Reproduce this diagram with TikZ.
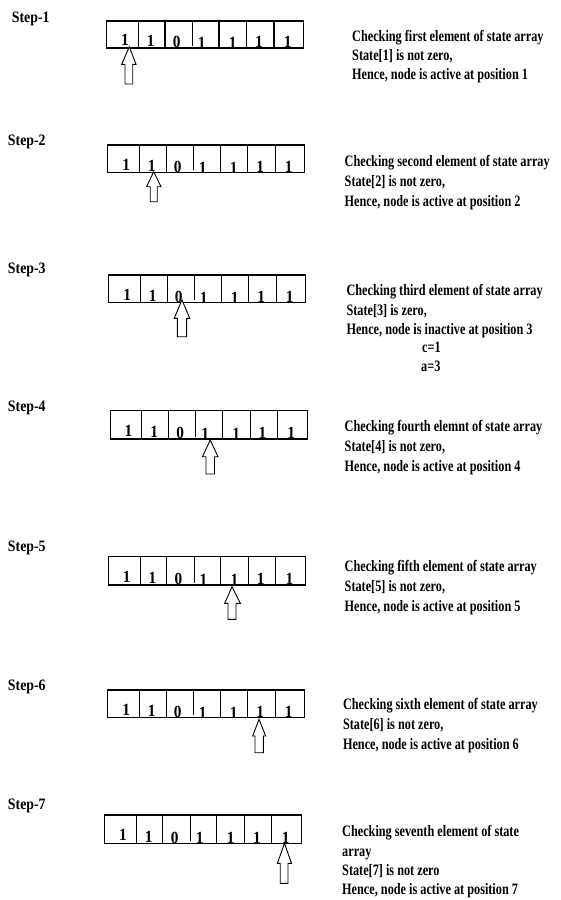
\documentclass[tikz,border=0pt]{standalone}
\usepackage{fontspec}
\setmainfont{Liberation Serif}
\newfontfamily\txtfont{Liberation Serif}[FakeStretch=0.77]
\newfontfamily\lblfont{Liberation Serif}[FakeStretch=0.87]
\newfontfamily\digfont{Liberation Serif}[FakeStretch=0.9]
\tikzset{
  txt/.style={anchor=base west, inner sep=0pt, font=\txtfont\bfseries\fontsize{15.9}{19}\selectfont},
  lbl/.style={anchor=base west, inner sep=0pt, font=\lblfont\bfseries\fontsize{15.9}{19}\selectfont},
  dig/.style={anchor=base, inner sep=0pt, font=\digfont\bfseries\fontsize{17}{19}\selectfont},
  cellbox/.style={draw, line width=1.1pt},
  hollow/.style={draw, line width=0.9pt, fill=white},
}
% #1 name, #2 left x, #3 top y, #4 bottom y
\newcommand\statearray[4]{%
  \draw[cellbox] (#2,#3) rectangle (#2+197,#4);
  \draw[cellbox] (#2+31.6,#3) -- (#2+31.6,#4);
  \draw[cellbox] (#2+58.3,#3) -- (#2+58.3,#4);
  \draw[cellbox] (#2+85.6,#3) -- (#2+85.6,#4-2.5);
  \draw[cellbox] (#2+112.3,#3) -- (#2+112.3,#4);
  \draw[cellbox] (#2+140,#3) -- (#2+140,#4);
  \draw[cellbox] (#2+167.3,#3) -- (#2+167.3,#4);
  \node[dig] (#1d1) at (#2+18.3,#4-2.5) {1};
  \node[dig] (#1d2) at (#2+44,#4-1.3) {1};
  \node[dig] (#1d3) at (#2+70,#4-0.3) {0};
  \node[dig] (#1d4) at (#2+95,#4+0.5) {1};
  \node[dig] (#1d5) at (#2+126,#4+0.5) {1};
  \node[dig] (#1d6) at (#2+152.3,#4-0.3) {1};
  \node[dig] (#1d7) at (#2+181,#4-0.3) {1};
}
% tipx, tipy, headL, headR, baseY, shaftL, shaftR, bottom
\newcommand\hollowarrow[8]{%
  \draw[hollow] (#6,#8) -- (#6,#5) -- (#3,#5) -- (#1,#2) -- (#4,#5) -- (#7,#5) -- (#7,#8) -- cycle;
}
\begin{document}
\begin{tikzpicture}[x=1pt,y=-1pt]
\path[use as bounding box, fill=white] (0,0) rectangle (560,900);

% Step 1
\node[lbl] (s1) at (11.7,22.3) {Step-1};
\statearray{a}{106.7}{21}{48}
\hollowarrow{129.3}{46.7}{121.7}{136}{64.3}{125}{132.7}{84}
\node[txt] (t1a) at (352,41) {Checking first element of state array};
\node[txt] (t1b) at (352,60) {State[1] is not zero,};
\node[txt] (t1c) at (352,79.5) {Hence, node is active at position 1};

% Step 2
\node[lbl] (s2) at (7.8,145) {Step-2};
\statearray{b}{107.8}{145}{172.7}
\hollowarrow{153.7}{171.7}{146.6}{161}{186.7}{150.2}{157.2}{201.7}
\node[txt] (t2a) at (344.5,166) {Checking second element of state array};
\node[txt] (t2b) at (344.5,186) {State[2] is not zero,};
\node[txt] (t2c) at (344.5,206) {Hence, node is active at position 2};

% Step 3
\node[lbl] (s3) at (7.8,273.3) {Step-3};
\statearray{c}{108.8}{275}{302.7}
\hollowarrow{182}{300}{174.2}{189.8}{318.3}{177.4}{186.6}{336.7}
\node[txt] (t3a) at (346.3,295.3) {Checking third element of state array};
\node[txt] (t3b) at (346.3,315.3) {State[3] is zero,};
\node[txt] (t3c) at (346.3,334.3) {Hence, node is inactive at position 3};
\node[txt] (t3d) at (422,352) {c=1};
\node[txt] (t3e) at (421,371) {a=3};

% Step 4
\node[lbl] (s4) at (7.8,411.7) {Step-4};
\statearray{d}{110.2}{410.7}{439}
\hollowarrow{210.2}{440}{202.5}{218}{456.7}{206}{214.5}{474}
\node[txt] (t4a) at (344.5,431) {Checking fourth elemnt of state array};
\node[txt] (t4b) at (344.5,451) {State[4] is not zero,};
\node[txt] (t4c) at (344.5,471) {Hence, node is active at position 4};

% Step 5
\node[lbl] (s5) at (7.8,551.7) {Step-5};
\statearray{e}{108.5}{556.7}{585}
\hollowarrow{232}{586.7}{224.7}{240.3}{603.3}{228}{236}{619.3}
\node[txt] (t5a) at (344.5,571) {Checking fifth element of state array};
\node[txt] (t5b) at (344.5,591) {State[5] is not zero,};
\node[txt] (t5c) at (344.5,611) {Hence, node is active at position 5};

% Step 6
\node[lbl] (s6) at (7.8,690) {Step-6};
\statearray{f}{107.8}{690}{717.7}
\hollowarrow{259}{719.3}{252.7}{265.7}{736}{255}{263.3}{752.7}
\node[txt] (t6a) at (342.8,709.3) {Checking sixth element of state array};
\node[txt] (t6b) at (342.8,729.3) {State[6] is not zero,};
\node[txt] (t6c) at (342.8,749.3) {Hence, node is active at position 6};

% Step 7
\node[lbl] (s7) at (7.8,809) {Step-7};
\statearray{g}{104.6}{815}{843.3}
\hollowarrow{284.5}{843.3}{277.4}{291.5}{863.3}{280.2}{288}{883.3}
\node[txt] (t7a) at (342,836) {Checking seventh element of state};
\node[txt] (t7b) at (342,856) {array};
\node[txt] (t7c) at (342,875) {State[7] is not zero};
\node[txt] (t7d) at (342,894) {Hence, node is active at position 7};
\end{tikzpicture}
\end{document}
